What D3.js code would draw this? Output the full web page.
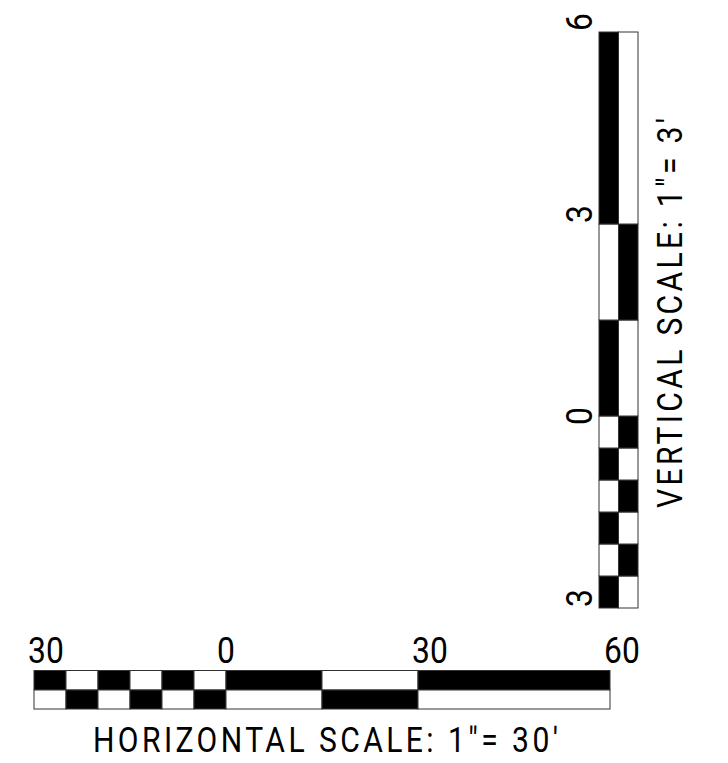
<!DOCTYPE html>
<html>
<head>
<meta charset="utf-8">
<script src="https://cdn.jsdelivr.net/npm/d3@7"></script>
<style>
  html, body { margin: 0; padding: 0; background: #fff; }
  svg { display: block; }
  text { font-family: Roboto, "Open Sans", "Liberation Sans", sans-serif; font-weight: 400; fill: #000; }
</style>
</head>
<body>
<script>
// ---- Data ----
const hBreaks = [-30, -25, -20, -15, -10, -5, 0, 15, 30, 60];
const hTickValues = [-30, 0, 30, 60];
const hTickLabels = ["30", "0", "30", "60"];
const hTitle = "HORIZONTAL SCALE: 1\"= 30'";

const vBreaks = [-3, -2.5, -2, -1.5, -1, -0.5, 0, 1.5, 3, 6];
const vTickValues = [-3, 0, 3, 6];
const vTickLabels = ["3", "0", "3", "6"];
const vTitle = "VERTICAL SCALE: 1\"= 3'";

// ---- Layout ----
const W = 728, H = 763;
const svg = d3.select("body").append("svg").attr("width", W).attr("height", H);
const squeeze = 0.86;
const capSqueeze = 0.86;
const tickSize = 37;

// Horizontal scale bar
const x = d3.scaleLinear().domain([-30, 60]).range([34, 610]);
const hRowTop = 670.5, hRowMid = 690, hRowBot = 709;
const hSegs = d3.pairs(hBreaks).map((p, i) => ({ a: p[0], b: p[1], i }));
const hg = svg.append("g");
hg.selectAll("rect.top").data(hSegs).join("rect")
  .attr("x", d => x(d.a)).attr("width", d => x(d.b) - x(d.a))
  .attr("y", hRowTop).attr("height", hRowMid - hRowTop)
  .attr("fill", d => d.i % 2 === 0 ? "#000" : "#fff")
  .attr("stroke", "#333").attr("stroke-width", 1);
hg.selectAll("rect.bot").data(hSegs).join("rect")
  .attr("x", d => x(d.a)).attr("width", d => x(d.b) - x(d.a))
  .attr("y", hRowMid).attr("height", hRowBot - hRowMid)
  .attr("fill", d => d.i % 2 === 0 ? "#fff" : "#000")
  .attr("stroke", "#333").attr("stroke-width", 1);

hg.selectAll("text.tick").data(hTickValues).join("text")
  .attr("class", "tick")
  .attr("transform", (d, i) => {
    const xx = hTickLabels[i] === "0" ? x(d) : x(d) - 6;
    return `translate(${xx},663) scale(${squeeze},1)`;
  })
  .attr("text-anchor", (d, i) => hTickLabels[i] === "0" ? "middle" : "start")
  .attr("font-size", tickSize)
  .text((d, i) => hTickLabels[i]);

hg.append("text")
  .attr("transform", `translate(93,752) scale(${capSqueeze},1)`)
  .attr("font-size", 35)
  .attr("textLength", 465 / capSqueeze).attr("lengthAdjust", "spacing")
  .text(hTitle);

// Vertical scale bar
const y = d3.scaleLinear().domain([-3, 6]).range([608, 32]);
const vColL = 599, vColM = 618.5, vColR = 638;
const vSegs = d3.pairs(vBreaks).map((p, i) => ({ a: p[0], b: p[1], i }));
const vg = svg.append("g");
vg.selectAll("rect.left").data(vSegs).join("rect")
  .attr("x", vColL).attr("width", vColM - vColL)
  .attr("y", d => y(d.b)).attr("height", d => y(d.a) - y(d.b))
  .attr("fill", d => d.i % 2 === 0 ? "#000" : "#fff")
  .attr("stroke", "#333").attr("stroke-width", 1);
vg.selectAll("rect.right").data(vSegs).join("rect")
  .attr("x", vColM).attr("width", vColR - vColM)
  .attr("y", d => y(d.b)).attr("height", d => y(d.a) - y(d.b))
  .attr("fill", d => d.i % 2 === 0 ? "#fff" : "#000")
  .attr("stroke", "#333").attr("stroke-width", 1);

vg.selectAll("text.tick").data(vTickValues).join("text")
  .attr("class", "tick")
  .attr("transform", (d, i) => {
    const yy = vTickLabels[i] === "0" ? y(d) : y(d) - 1;
    return `translate(592,${yy}) rotate(-90) scale(${squeeze},1)`;
  })
  .attr("text-anchor", (d, i) => vTickLabels[i] === "0" ? "middle" : "start")
  .attr("font-size", tickSize)
  .text((d, i) => vTickLabels[i]);

vg.append("text")
  .attr("transform", `translate(682,508) rotate(-90) scale(${capSqueeze},1)`)
  .attr("font-size", 35)
  .attr("textLength", 390 / capSqueeze).attr("lengthAdjust", "spacing")
  .text(vTitle);
</script>
</body>
</html>
